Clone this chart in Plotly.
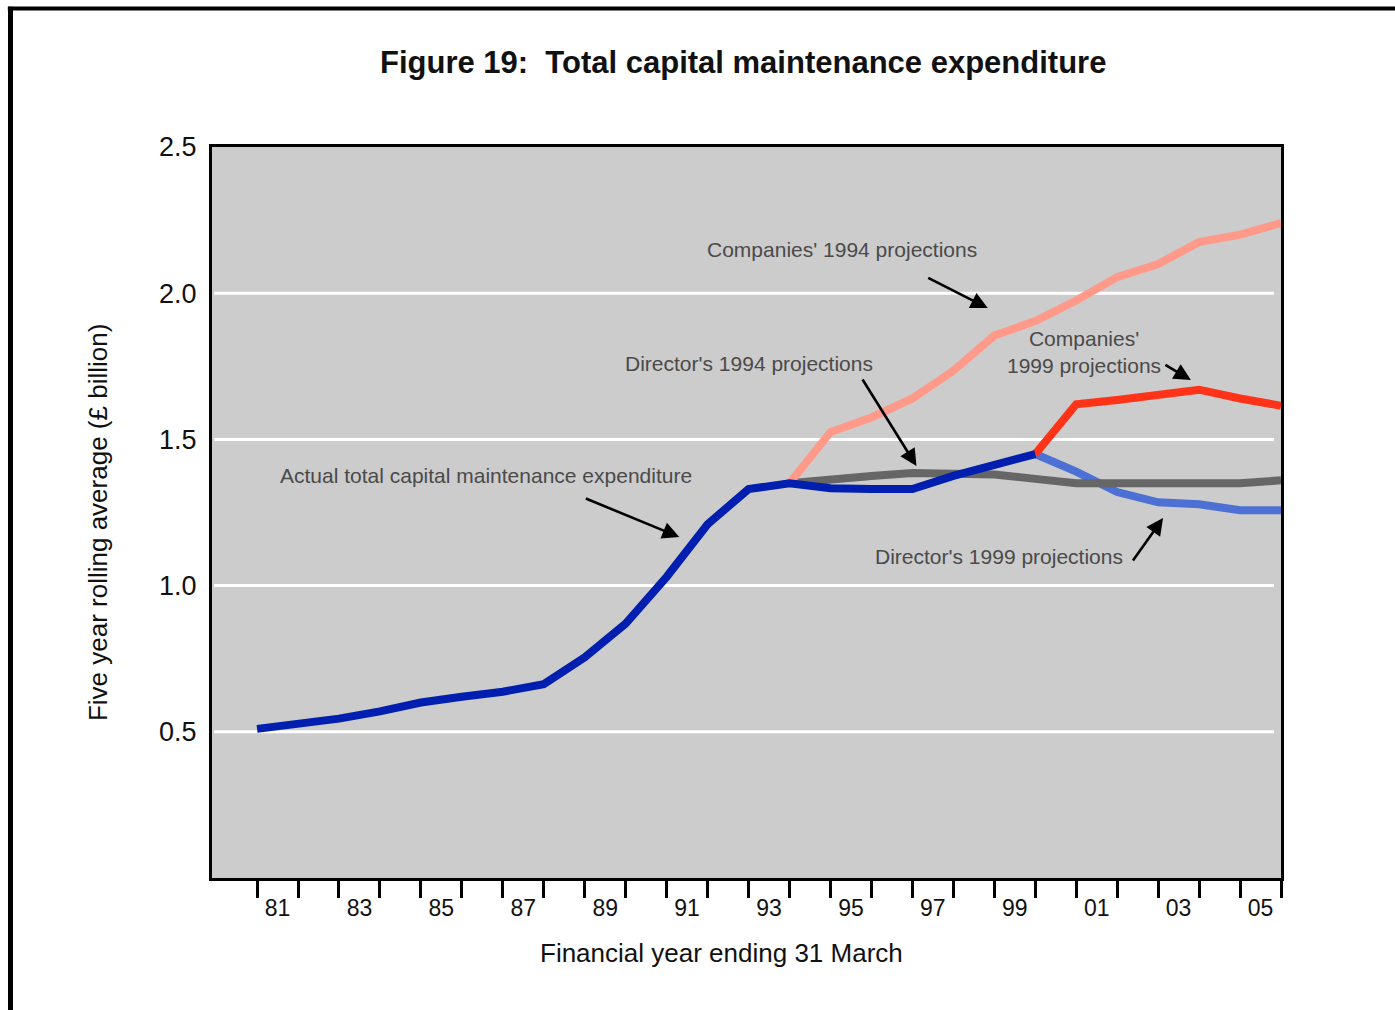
import plotly.graph_objects as go

# ---- data ----
tick_labels = ['81', '83', '85', '87', '89', '91', '93', '95', '97', '99', '01', '03', '05']
label_pos = [1980.5, 1982.5, 1984.5, 1986.5, 1988.5, 1990.5, 1992.5, 1994.5, 1996.5,
             1998.5, 2000.5, 2002.5, 2004.5]
year_marks = list(range(1980, 2006))

actual_x = list(range(1980, 2000))
actual_y = [0.51, 0.525, 0.545, 0.57, 0.60, 0.62, 0.637, 0.663, 0.755, 0.87,
            1.03, 1.21, 1.33, 1.35, 1.333, 1.33, 1.33, 1.375, 1.41, 1.45]

proj94_x = list(range(1993, 2006))
companies94_y = [1.35, 1.525, 1.575, 1.64, 1.735, 1.855, 1.905, 1.975, 2.055, 2.10, 2.175, 2.20, 2.24]
director94_y = [1.35, 1.365, 1.375, 1.385, 1.385, 1.38, 1.365, 1.35, 1.35, 1.35, 1.35, 1.35, 1.36]

proj99_x = list(range(1999, 2006))
companies99_y = [1.45, 1.62, 1.635, 1.655, 1.67, 1.64, 1.615]
director99_y = [1.45, 1.39, 1.32, 1.285, 1.278, 1.258, 1.258]

y_ticks = [0.5, 1.0, 1.5, 2.0, 2.5]
y_ticktext = ['0.5', '1.0', '1.5', '2.0', '2.5']

FONT = 'Liberation Sans, Arial, sans-serif'
LW = 8

fig = go.Figure()
fig.add_trace(go.Scatter(x=proj99_x, y=director99_y, mode='lines',
                         line=dict(color='#4C70D4', width=LW), name="Director's 1999 projections"))
fig.add_trace(go.Scatter(x=proj94_x, y=director94_y, mode='lines',
                         line=dict(color='#666666', width=LW), name="Director's 1994 projections"))
fig.add_trace(go.Scatter(x=proj94_x, y=companies94_y, mode='lines',
                         line=dict(color='#FF9A8A', width=LW), name="Companies' 1994 projections"))
fig.add_trace(go.Scatter(x=proj99_x, y=companies99_y, mode='lines',
                         line=dict(color='#FF3318', width=LW), name="Companies' 1999 projections"))
fig.add_trace(go.Scatter(x=actual_x, y=actual_y, mode='lines',
                         line=dict(color='#001EAF', width=LW), name='Actual'))

# gridlines (white, stopping short of right border)
shapes = []
for v in [0.5, 1.0, 1.5, 2.0]:
    shapes.append(dict(type='line', xref='paper', yref='y', x0=0.002, x1=0.9935, y0=v, y1=v,
                       line=dict(color='white', width=3), layer='below'))
# outer frame (top & left)
shapes.append(dict(type='line', xref='paper', yref='paper', x0=-0.1885, x1=-0.1885, y0=1.192, y1=-0.2,
                   line=dict(color='black', width=5)))
shapes.append(dict(type='line', xref='paper', yref='paper', x0=-0.191, x1=1.12, y0=1.1895, y1=1.1895,
                   line=dict(color='black', width=4)))

ann_color = '#4a4a4a'
annotations = [
    dict(text='Figure 19:\u00a0 Total capital maintenance expenditure', xref='paper', yref='paper',
         x=0.4967, y=1.116, showarrow=False, xanchor='center', yanchor='middle',
         font=dict(family=FONT, size=31, color='#111111', weight='bold')),
    dict(text='Financial year ending 31 March', xref='paper', yref='paper',
         x=0.477, y=-0.1026, showarrow=False, xanchor='center', yanchor='middle',
         font=dict(family=FONT, size=26, color='#111111')),
    dict(text='Five year rolling average (£ billion)', xref='paper', yref='paper',
         x=-0.1066, y=0.4856, showarrow=False, xanchor='center', yanchor='middle', textangle=-90,
         font=dict(family=FONT, size=26, color='#111111')),
]

def label(text, x, y):
    annotations.append(dict(text=text, x=x, y=y, xref='x', yref='y', showarrow=False,
                            xanchor='center', yanchor='middle',
                            font=dict(family=FONT, size=21, color=ann_color)))

def arrow(x0, y0, x1, y1):
    annotations.append(dict(text='', x=x1, y=y1, ax=x0, ay=y0, xref='x', yref='y',
                            axref='x', ayref='y', showarrow=True, arrowhead=2,
                            arrowsize=1.3, arrowwidth=2.6, arrowcolor='black'))

label("Companies' 1994 projections", 1994.27, 2.151)
arrow(1996.35, 2.055, 1997.84, 1.949)
label("Director's 1994 projections", 1992.0, 1.758)
arrow(1994.76, 1.710, 1996.10, 1.409)
label("Companies'<br>1999 projections", 2000.19, 1.799)
arrow(2002.14, 1.758, 2002.80, 1.703)
label('Actual total capital maintenance expenditure', 1985.6, 1.378)
arrow(1987.99, 1.30, 1990.31, 1.166)
label("Director's 1999 projections", 1998.11, 1.101)
arrow(2001.36, 1.081, 2002.12, 1.231)

fig.update_layout(
    width=1395, height=1010,
    margin=dict(l=212, r=114, t=147, b=132, pad=0),
    paper_bgcolor='white', plot_bgcolor='#CCCCCC',
    showlegend=False,
    shapes=shapes, annotations=annotations,
    font=dict(family=FONT, color='#111111'),
    xaxis=dict(range=[1978.9, 2005.0], showgrid=False, zeroline=False,
               tickmode='array', tickvals=label_pos, ticktext=tick_labels,
               ticks='outside', ticklen=7, tickcolor='rgba(0,0,0,0)',
               tickfont=dict(family=FONT, size=23, color='#111111'),
               showline=True, linecolor='black', linewidth=3, mirror=True,
               minor=dict(tickmode='array', tickvals=year_marks, ticks='outside',
                          ticklen=17, tickwidth=3, tickcolor='black', showgrid=False)),
    yaxis=dict(range=[0, 2.5], showgrid=False, zeroline=False,
               tickmode='array', tickvals=y_ticks, ticktext=y_ticktext,
               ticks='', ticklabelstandoff=7,
               tickfont=dict(family=FONT, size=27, color='#111111'),
               showline=True, linecolor='black', linewidth=3, mirror=True),
)

fig.write_html('out.html')
